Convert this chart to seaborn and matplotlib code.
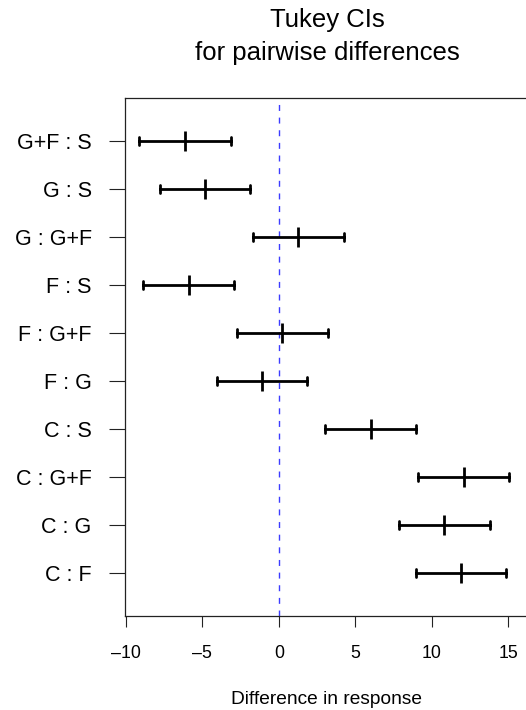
import numpy as np
import pandas as pd
import matplotlib
matplotlib.use("Agg")
import matplotlib.pyplot as plt
import seaborn as sns

# Tukey HSD intervals
comparisons = ["G+F : S", "G : S", "G : G+F", "F : S", "F : G+F",
               "F : G", "C : S", "C : G+F", "C : G", "C : F"]
diff = [-6.11, -4.83, 1.28, -5.89, 0.24, -1.11, 6.00, 12.09, 10.78, 11.89]
lwr = [-9.11, -7.76, -1.67, -8.85, -2.76, -4.04, 3.02, 9.13, 7.83, 8.96]
upr = [-3.13, -1.85, 4.26, -2.91, 3.20, 1.87, 8.98, 15.07, 13.78, 14.87]
x_ticks = [-10, -5, 0, 5, 10, 15]

# long form: lower / estimate / upper per comparison
df = pd.DataFrame({
    "comparison": comparisons * 3,
    "value": lwr + diff + upr,
})

sns.set_style("ticks")
plt.rcParams["font.family"] = ["Liberation Sans", "DejaVu Sans"]
plt.rcParams["text.color"] = "black"
plt.rcParams["axes.labelcolor"] = "black"
plt.rcParams["xtick.color"] = "black"
plt.rcParams["ytick.color"] = "black"

fig = plt.figure(figsize=(5.26, 7.10), dpi=100)
ax = fig.add_axes([0.2376, 0.1324, 0.768, 0.7296])

sns.pointplot(data=df, x="value", y="comparison", order=comparisons,
              estimator="median", errorbar=("pi", 100),
              linestyle="none", marker="|", markersize=14.5,
              markeredgewidth=2, color="black", capsize=0.18,
              err_kws={"linewidth": 2}, ax=ax)

ax.axvline(0, color="#3c3cff", linestyle=(0, (4.3, 4.8)), linewidth=1.0,
           zorder=0)

ax.set_xlim(-10.05, 16.35)
ax.set_ylim(9.9, -0.9)
ax.set_xticks(x_ticks)
ax.set_xticklabels([str(t).replace("-", "\u2013") for t in x_ticks])

for side in ["top", "right", "bottom", "left"]:
    ax.spines[side].set_visible(True)
    ax.spines[side].set_color("#222222")
    ax.spines[side].set_linewidth(0.9)

ax.tick_params(axis="y", length=11.5, width=0.8, pad=12.5, labelsize=15.5,
               color="#222222", labelcolor="black")
ax.tick_params(axis="x", length=8, width=0.8, pad=13, labelsize=12.8,
               color="#222222", labelcolor="black")

ax.set_ylabel("")
ax.set_xlabel("Difference in response", fontsize=13.8, labelpad=21,
              color="black")

fig.text(0.6217, 0.989, "Tukey CIs\nfor pairwise differences",
         ha="center", va="top", fontsize=18.5, linespacing=1.47,
         color="black")

fig.savefig("out.png", dpi=100)
